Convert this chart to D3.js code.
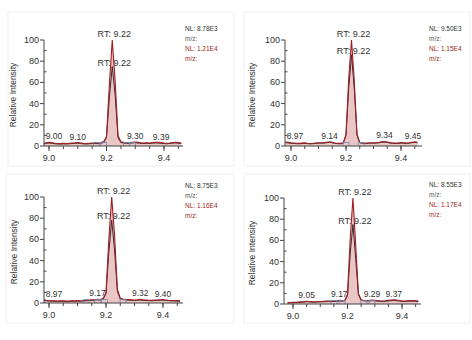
<!DOCTYPE html>
<html>
<head>
<meta charset="utf-8">
<script src="https://cdn.jsdelivr.net/npm/d3@7"></script>
<style>
  html, body { margin: 0; padding: 0; background: #ffffff; }
  svg { display: block; font-family: "Liberation Sans", Arial, sans-serif; }
</style>
</head>
<body>
<svg id="chart" width="472" height="340"></svg>
<script>
// ---------- DATA ----------
const times = [8.98, 8.99, 9.00, 9.01, 9.02, 9.03, 9.04, 9.05, 9.06, 9.07, 9.08, 9.09, 9.10, 9.11, 9.12, 9.13,
  9.14, 9.15, 9.16, 9.17, 9.18, 9.19, 9.20, 9.21, 9.22, 9.23, 9.24, 9.25, 9.26, 9.27, 9.28, 9.29, 9.30, 9.31,
  9.32, 9.33, 9.34, 9.35, 9.36, 9.37, 9.38, 9.39, 9.40, 9.41, 9.42, 9.43, 9.44, 9.45, 9.46];

// red (filled) trace, normalised to 100
const redP1 = [2.5, 3.0, 3.6, 3.2, 2.6, 2.4, 2.2, 2.5, 2.3, 2.6, 2.8, 3.0, 3.3, 2.9, 2.5, 2.3, 2.6, 2.8, 3.0, 2.7,
  3.2, 4.0, 9, 58, 100, 62, 10, 4.0, 3.4, 3.0, 3.2, 3.5, 3.8, 3.4, 3.0, 2.8, 3.1, 2.9, 3.2, 3.6, 3.4, 3.2, 2.8, 2.6,
  2.9, 3.3, 3.6, 3.2, 2.8];
const redP2 = [3.8, 3.4, 3.0, 2.8, 2.6, 2.5, 2.7, 2.9, 2.6, 2.4, 2.6, 2.9, 3.1, 3.0, 3.2, 3.6, 4.0, 3.5, 2.9, 2.6,
  2.5, 3.0, 11, 64, 100, 62, 11, 3.5, 3.0, 2.7, 2.9, 3.1, 3.0, 3.2, 3.5, 3.9, 4.3, 3.8, 3.2, 2.9, 2.7, 2.9, 3.2, 3.0,
  2.8, 3.1, 3.6, 4.0, 3.5];
const redP3 = [3.0, 2.6, 2.3, 2.1, 2.0, 1.9, 2.1, 2.0, 1.8, 1.9, 2.1, 2.0, 2.2, 2.1, 2.3, 2.6, 2.8, 3.0, 3.2, 3.6,
  3.3, 4.2, 10, 60, 100, 64, 13, 4.5, 3.8, 3.4, 3.2, 3.0, 2.9, 3.1, 3.4, 3.0, 2.8, 2.6, 2.5, 2.7, 2.9, 3.1, 3.3, 2.9,
  2.6, 2.4, 2.3, 2.2, 2.1];
const redP4 = [1.2, 1.4, 1.5, 1.6, 1.8, 2.0, 2.2, 2.6, 2.4, 2.2, 2.1, 2.3, 2.4, 2.5, 2.7, 2.9, 2.8, 3.0, 3.1, 3.4,
  3.2, 3.6, 9, 62, 100, 56, 10, 4.0, 3.5, 3.3, 3.4, 3.8, 3.5, 3.2, 3.0, 2.9, 3.1, 3.4, 3.7, 4.0, 3.7, 3.3, 3.0, 2.9,
  3.1, 3.3, 3.2, 3.0, 2.8];

// dark (overlaid) trace, normalised against the red one
const darkP1 = [2.0, 2.4, 2.8, 2.6, 2.1, 1.9, 1.8, 2.0, 1.9, 2.1, 2.3, 2.5, 2.7, 2.4, 2.0, 1.9, 2.1, 2.3, 2.5, 2.2,
  2.6, 3.2, 8, 46, 75, 48, 8, 3.2, 2.8, 2.5, 2.6, 2.9, 3.1, 2.8, 2.5, 2.3, 2.5, 2.4, 2.6, 2.9, 2.8, 2.6, 2.3, 2.1,
  2.4, 2.7, 2.9, 2.6, 2.3];
const darkP2 = [3.2, 2.9, 2.6, 2.4, 2.2, 2.1, 2.3, 2.5, 2.2, 2.0, 2.2, 2.5, 2.7, 2.6, 2.8, 3.1, 3.5, 3.0, 2.5, 2.2,
  2.1, 2.6, 10, 55, 86, 54, 10, 3.0, 2.6, 2.3, 2.5, 2.7, 2.6, 2.8, 3.0, 3.4, 3.7, 3.3, 2.8, 2.5, 2.3, 2.5, 2.8, 2.6,
  2.4, 2.7, 3.1, 3.4, 3.0];
const darkP3 = [2.4, 2.1, 1.8, 1.7, 1.6, 1.5, 1.7, 1.6, 1.4, 1.5, 1.7, 1.6, 1.8, 1.7, 1.9, 2.1, 2.3, 2.5, 2.7, 3.0,
  2.8, 3.5, 9, 48, 78, 50, 11, 3.8, 3.2, 2.9, 2.7, 2.5, 2.4, 2.6, 2.9, 2.5, 2.3, 2.2, 2.1, 2.3, 2.4, 2.6, 2.8, 2.4,
  2.2, 2.0, 1.9, 1.8, 1.7];
const darkP4 = [1.0, 1.1, 1.2, 1.3, 1.5, 1.7, 1.8, 2.2, 2.0, 1.8, 1.7, 1.9, 2.0, 2.1, 2.3, 2.4, 2.3, 2.5, 2.6, 2.9,
  2.7, 3.0, 8, 48, 75, 43, 9, 3.4, 3.0, 2.8, 2.9, 3.2, 3.0, 2.7, 2.5, 2.4, 2.6, 2.9, 3.1, 3.4, 3.1, 2.8, 2.5, 2.4,
  2.6, 2.8, 2.7, 2.5, 2.3];

const peakRT = ["9.22", "9.22", "9.22", "9.22"];
const peakTop = [100, 100, 100, 100];
const peakDark = [75, 86, 78, 75];
const minorLabels = [
  [["9.00", 9.00, 3.6], ["9.10", 9.10, 3.3], ["9.30", 9.30, 3.8], ["9.39", 9.39, 3.2]],
  [["8.97", 8.97, 3.8], ["9.14", 9.14, 4.0], ["9.34", 9.34, 4.3], ["9.45", 9.45, 4.0]],
  [["8.97", 8.97, 3.0], ["9.17", 9.17, 3.6], ["9.32", 9.32, 3.4], ["9.40", 9.40, 3.3]],
  [["9.05", 9.05, 2.6], ["9.17", 9.17, 3.4], ["9.29", 9.29, 3.8], ["9.37", 9.37, 4.0]]
];
const baselineMarks = [
  [9.165, 9.19, 9.27, 9.29],
  [9.20, 9.255],
  [9.13, 9.17, 9.195, 9.26],
  [9.15, 9.18, 9.26, 9.29]
];
const nlDark = ["NL: 8.78E3", "NL: 9.50E3", "NL: 8.75E3", "NL: 8.55E3"];
const nlRed = ["NL: 1.21E4", "NL: 1.15E4", "NL: 1.16E4", "NL: 1.17E4"];
const xTicks = [9.0, 9.2, 9.4];
const yTicks = [0, 20, 40, 60, 80, 100];
const yLabel = "Relative Intensity";
const mzLabel = "m/z:";

const redSeries = [redP1, redP2, redP3, redP4];
const darkSeries = [darkP1, darkP2, darkP3, darkP4];

// ---------- LAYOUT (positions, not data) ----------
const layout = [
  { frame: [8, 12, 226, 154], axisX: 44, endX: 183, x90: 49, x94: 164, yTop: 40, yBot: 146, ylx: 14, nlx: 185, nly: 28 },
  { frame: [244, 12, 226, 154], axisX: 285, endX: 422, x90: 291, x94: 401, yTop: 40, yBot: 146, ylx: 253, nlx: 429, nly: 28 },
  { frame: [6, 174, 228, 149], axisX: 44, endX: 183, x90: 49, x94: 163, yTop: 197, yBot: 303, ylx: 15, nlx: 185, nly: 185 },
  { frame: [244, 174, 226, 149], axisX: 284, endX: 421, x90: 293, x94: 402, yTop: 198, yBot: 304, ylx: 253, nlx: 429, nly: 184 }
];

const svg = d3.select("#chart");
svg.append("rect").attr("width", 472).attr("height", 340).attr("fill", "#ffffff");

const RED = "#9e1f24";
const FILL = "#e8bcbc";
const DARK = "#3b2b2c";
const TXT = "#333333";
const AX = "#444444";
const BLUE = "#6f8cb5";

layout.forEach((L, p) => {
  const g = svg.append("g");
  g.append("rect")
    .attr("x", L.frame[0]).attr("y", L.frame[1]).attr("width", L.frame[2]).attr("height", L.frame[3])
    .attr("fill", "#ffffff").attr("stroke", "#efefef").attr("stroke-width", 1);

  const x = d3.scaleLinear().domain([9.0, 9.4]).range([L.x90, L.x94]);
  const y = d3.scaleLinear().domain([0, 100]).range([L.yBot, L.yTop]);
  const xMin = x.invert(L.axisX), xMax = x.invert(L.endX);

  const clipId = "clip" + p;
  g.append("clipPath").attr("id", clipId).append("rect")
    .attr("x", L.axisX).attr("y", L.yTop - 30).attr("width", L.endX - L.axisX).attr("height", L.yBot - L.yTop + 30);

  // labels (drawn before traces, which overlap them as in the original)
  g.append("text").attr("x", x(9.22) + 2).attr("y", y(peakTop[p]) - 3.5)
    .attr("text-anchor", "middle").attr("font-size", 9).attr("fill", TXT).text("RT: " + peakRT[p]);
  g.append("text").attr("x", x(9.22) + 2).attr("y", y(peakDark[p]) - 1)
    .attr("text-anchor", "middle").attr("font-size", 9).attr("fill", TXT).text("RT: " + peakRT[p]);

  minorLabels[p].forEach(([lab, t, v]) => {
    let cx = x(t);
    cx = Math.max(L.axisX + 10, Math.min(L.endX - 9, cx));
    g.append("text").attr("x", cx).attr("y", y(v) - 3)
      .attr("text-anchor", "middle").attr("font-size", 8.5).attr("fill", TXT).text(lab);
  });

  const data = times.map((t, i) => ({ t, r: redSeries[p][i], d: darkSeries[p][i] }));
  const area = d3.area().x(d => x(d.t)).y0(y(0)).y1(d => y(d.r));
  const lineR = d3.line().x(d => x(d.t)).y(d => y(d.r));
  const lineD = d3.line().x(d => x(d.t)).y(d => y(d.d));

  const plot = g.append("g").attr("clip-path", `url(#${clipId})`);
  plot.append("path").datum(data).attr("d", area).attr("fill", FILL).attr("fill-opacity", 0.85);
  plot.append("path").datum(data).attr("d", lineD).attr("fill", "none").attr("stroke", DARK).attr("stroke-width", 1);
  plot.append("path").datum(data).attr("d", lineR).attr("fill", "none").attr("stroke", RED).attr("stroke-width", 1.1);

  baselineMarks[p].forEach(t => {
    plot.append("rect").attr("x", x(t) - 3).attr("y", y(3.2)).attr("width", 6).attr("height", 4)
      .attr("fill", "none").attr("stroke", BLUE).attr("stroke-width", 0.8);
  });

  // Y axis
  const ya = g.append("g").attr("transform", `translate(${L.axisX},0)`);
  ya.append("line").attr("y1", y(0)).attr("y2", y(100)).attr("stroke", AX);
  ya.selectAll(".maj").data(yTicks).join("line")
    .attr("x1", -4).attr("x2", 0).attr("y1", d => y(d)).attr("y2", d => y(d)).attr("stroke", AX);
  ya.selectAll(".min").data(d3.range(10, 100, 20)).join("line")
    .attr("x1", 0).attr("x2", 2.5).attr("y1", d => y(d)).attr("y2", d => y(d)).attr("stroke", AX);
  ya.selectAll(".lab").data(yTicks).join("text")
    .attr("x", -5).attr("y", d => y(d) + 3).attr("text-anchor", "end")
    .attr("font-size", 9).attr("fill", TXT).text(d => d);
  g.append("text")
    .attr("transform", `translate(${L.ylx},${(L.yTop + L.yBot) / 2 + 2}) rotate(-90)`)
    .attr("text-anchor", "middle").attr("dominant-baseline", "middle")
    .attr("font-size", 8.5).attr("fill", TXT).text(yLabel);

  // X axis
  const xa = g.append("g").attr("transform", `translate(0,${L.yBot})`);
  xa.append("line").attr("x1", L.axisX).attr("x2", L.endX).attr("stroke", AX);
  const minorX = d3.range(9.0, 9.46, 0.05).filter(v => v >= xMin && v <= xMax);
  xa.selectAll(".mn").data(minorX).join("line")
    .attr("x1", d => x(d)).attr("x2", d => x(d)).attr("y1", 0).attr("y2", 3).attr("stroke", AX);
  xa.selectAll(".mj").data(xTicks).join("line")
    .attr("x1", d => x(d)).attr("x2", d => x(d)).attr("y1", 0).attr("y2", 5).attr("stroke", AX);
  xa.selectAll(".lb").data(xTicks).join("text")
    .attr("x", d => x(d)).attr("y", 15).attr("text-anchor", "middle")
    .attr("font-size", 9).attr("fill", TXT).text(d => d.toFixed(1));

  // NL annotations
  const nl = [[nlDark[p], "#333333"], [mzLabel, "#555555"], [nlRed[p], RED], [mzLabel, RED]];
  nl.forEach(([t, c], i) => {
    g.append("text").attr("x", L.nlx).attr("y", L.nly + i * 10 + 2.5)
      .attr("font-size", 6.5).attr("fill", c).text(t);
  });
});
</script>
</body>
</html>
